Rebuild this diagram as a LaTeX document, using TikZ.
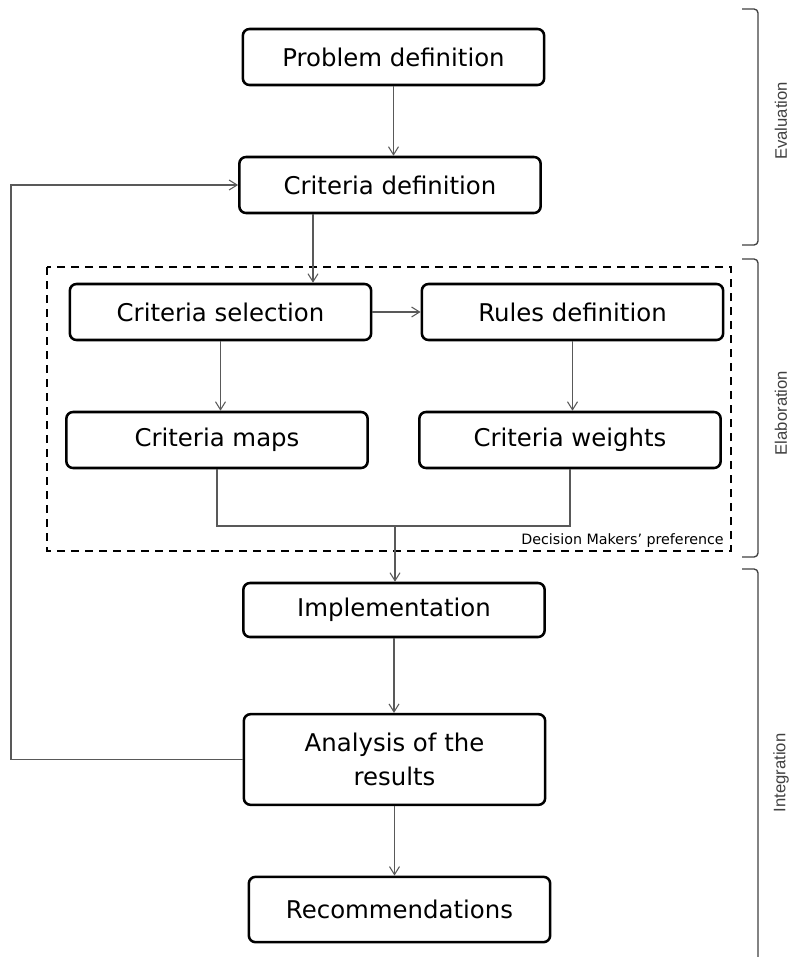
\documentclass[tikz,border=0pt]{standalone}
\usepackage{fontspec}
\setmainfont{DejaVu Sans}
\newfontfamily\sidefont{Liberation Sans}
\usetikzlibrary{arrows.meta}

\tikzset{
  stage/.style={draw,line width=1.9pt,rounded corners=5pt,minimum width=226pt,
    minimum height=42pt,inner sep=0pt,align=center,
    font=\fontsize{18.3}{26}\selectfont},
  flow/.style={draw=black!65,line width=0.8pt,-{Straight Barb[length=6pt,width=7.5pt]}},
  link/.style={draw=black!65,line width=0.8pt},
  phase/.style={draw=black!75,line width=1pt,rounded corners=3pt},
  phaselabel/.style={rotate=90,text=black!75,font=\sidefont\fontsize{12.5}{14}\selectfont},
}

\begin{document}
\begin{tikzpicture}[x=0.75pt,y=-0.75pt]
    \useasboundingbox (0,0) rectangle (793,957);
    % preference group
    \draw [line width=1.5pt,dash pattern=on 6pt off 4.5pt] (47,267) rectangle (731,551);
    \node [anchor=base east,inner sep=0pt,font=\fontsize{10.7}{12}\selectfont] (prefs) at (724,544) {Decision Makers’ preference};
    % steps
    \node [stage] (probdef) at (393.5,57) {Problem definition};
    \node [stage] (critdef) at (390,185) {Criteria definition};
    \node [stage] (critsel) at (220.5,312) {Criteria selection};
    \node [stage] (rulesdef) at (572.5,312) {Rules definition};
    \node [stage] (critmaps) at (217,440) {Criteria maps};
    \node [stage] (critweights) at (570,440) {Criteria weights};
    \node [stage,minimum height=40.5pt] (impl) at (394,610) {Implementation};
    \node [stage,minimum height=68pt] (analysis) at (394.5,759.5) {Analysis of the\\results};
    \node [stage,minimum height=49pt] (recs) at (399.5,909.5) {Recommendations};
    % connectors
    \coordinate (seldrop) at (313,0);
    \coordinate (merge) at (395,526);
    \coordinate (loopback) at (11,0);
    \draw [flow] (probdef.south) -- (probdef.south |- critdef.north);
    \draw [flow] (critdef.south -| seldrop) -- (critsel.north -| seldrop);
    \draw [flow] (critsel.east) -- (rulesdef.west);
    \draw [flow] (critsel.south) -- (critsel.south |- critmaps.north);
    \draw [flow] (rulesdef.south) -- (rulesdef.south |- critweights.north);
    \draw [link] (critmaps.south) |- (merge) -| (critweights.south);
    \draw [flow] (merge) -- (merge |- impl.north);
    \draw [flow] (impl.south) -- (impl.south |- analysis.north);
    \draw [flow] (analysis.south) -- (analysis.south |- recs.north);
    \draw [flow] (analysis.west) -- (analysis.west -| loopback) |- (critdef.west);
    % phases
    \draw [phase] (742,9) -- (758,9) -- (758,245) -- (742,245);
    \draw [phase] (742,259) -- (758,259) -- (758,557) -- (742,557);
    \draw [phase] (742,569) -- (758,569) -- (758,957);
    \node [phaselabel] (evallbl) at (781,121) {Evaluation};
    \node [phaselabel] (elablbl) at (781,413) {Elaboration};
    \node [phaselabel] (integlbl) at (781,773) {Integration};
\end{tikzpicture}
\end{document}
